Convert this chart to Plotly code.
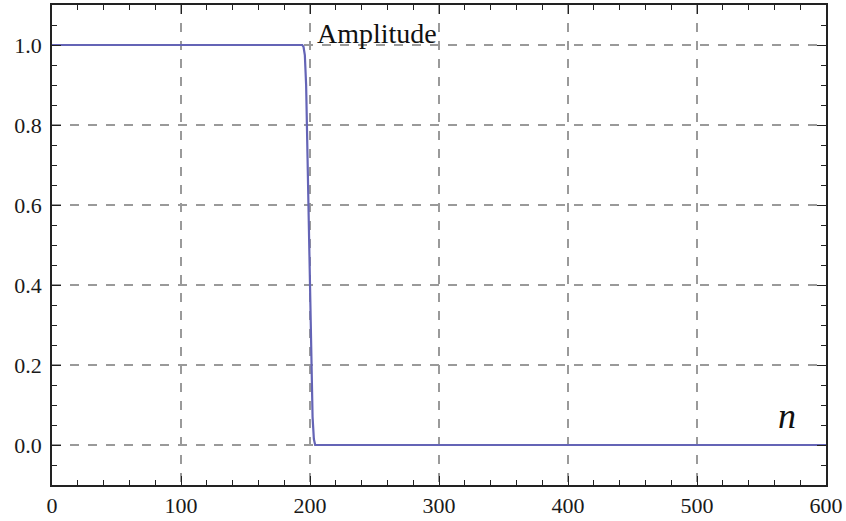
import plotly.graph_objects as go

# Data
n_values = [0, 100, 190, 194, 195, 196, 197, 198, 199, 200, 201, 202, 203, 204, 210, 300, 400, 500, 600]
amplitude = [1.0, 1.0, 1.0, 1.0, 0.995, 0.975, 0.90, 0.74, 0.55, 0.36, 0.19, 0.07, 0.015, 0.0, 0.0, 0.0, 0.0, 0.0, 0.0]

x_ticks = [0, 100, 200, 300, 400, 500, 600]
y_ticks = [0.0, 0.2, 0.4, 0.6, 0.8, 1.0]
y_tick_labels = ["0.0", "0.2", "0.4", "0.6", "0.8", "1.0"]

SERIF = "Liberation Serif"

fig = go.Figure()
fig.add_trace(go.Scatter(
    x=n_values, y=amplitude, mode="lines",
    line=dict(color="rgb(100,100,182)", width=2.2),
    hoverinfo="skip", showlegend=False,
))

tick_font = dict(family=SERIF, size=22, color="#1a1a1a")
axis_common = dict(
    showline=True, linecolor="#222", linewidth=1.6, mirror="allticks",
    ticks="inside", ticklen=9, tickwidth=1.4, tickcolor="#222",
    showgrid=True, gridcolor="#9a9a9a", gridwidth=1.5, griddash="dash",
    zeroline=False, tickfont=tick_font, automargin=False,
)

fig.update_xaxes(range=[0, 600], tickvals=x_ticks,
                 minor=dict(ticks="inside", ticklen=5, tickwidth=1.3, tickcolor="#222", dtick=20, showgrid=False),
                 **axis_common)
fig.update_yaxes(range=[-0.1, 1.1], tickvals=y_ticks, ticktext=y_tick_labels,
                 ticklabelstandoff=4,
                 minor=dict(ticks="inside", ticklen=5, tickwidth=1.3, tickcolor="#222", dtick=0.05, tick0=0, showgrid=False),
                 **axis_common)

fig.add_annotation(x=204, y=1.03, xref="x", yref="y", text="Amplitude",
                   showarrow=False, xanchor="left", yanchor="middle",
                   font=dict(family=SERIF, size=28, color="#111"))
fig.add_annotation(x=570, y=0.072, xref="x", yref="y", text="<i>n</i>",
                   showarrow=False, xanchor="center", yanchor="middle",
                   font=dict(family=SERIF, size=36, color="#111"))

fig.update_layout(
    width=846, height=521,
    margin=dict(l=52, r=20, t=5, b=36),
    paper_bgcolor="white", plot_bgcolor="white",
)

fig.write_html("out.html", config={"displayModeBar": False},
               post_script="document.body.style.margin='0px';document.body.style.overflow='hidden';")
